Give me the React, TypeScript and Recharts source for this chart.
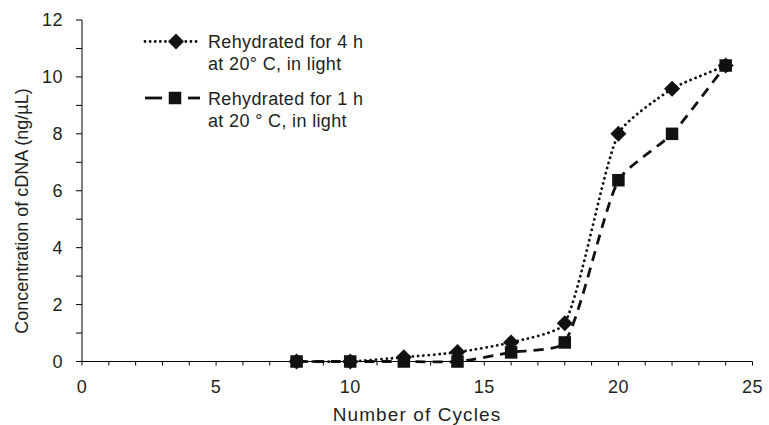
import { LineChart, Line, XAxis, YAxis, Legend } from 'recharts';

// cycles on x, cDNA concentration (ng/µL) on y
const cycles = [8, 10, 12, 14, 16, 18, 20, 22, 24];
const rehydrated4h = [0, 0, 0.15, 0.33, 0.67, 1.34, 8.0, 9.58, 10.4];
const rehydrated1h = [0, 0, 0, 0, 0.32, 0.67, 6.37, 8.0, 10.4];

const xTicks = Array.from({ length: 26 }, (_, i) => i);
const yTicks = Array.from({ length: 13 }, (_, i) => i);

const legendLabels = [
  ['Rehydrated for 4 h', 'at 20° C, in light'],
  ['Rehydrated for 1 h', 'at 20 ° C, in light'],
];

const data = cycles.map((c, i) => ({ cycle: c, h4: rehydrated4h[i], h1: rehydrated1h[i] }));

const INK = '#231f20';
const FONT = 'Liberation Sans, Arial, sans-serif';

// smoothed line: bezier tangents weighted by neighbouring segment lengths
function smoothCurve(context: any) {
  let pts: number[][] = [];
  const dist = (a: number[], b: number[]) => Math.hypot(b[0] - a[0], b[1] - a[1]);
  // control offset from point i towards its neighbour on side s (+1 next, -1 prev)
  const ctrl = (i: number, s: number) => {
    const p = pts[i];
    const prev = pts[i - 1];
    const next = pts[i + 1];
    if (!prev || !next) {
      const q = s > 0 ? next : prev;
      return [p[0] + (q[0] - p[0]) / 3, p[1] + (q[1] - p[1]) / 3];
    }
    const tx = next[0] - prev[0];
    const ty = next[1] - prev[1];
    const dp = dist(prev, p);
    const dn = dist(p, next);
    const w = (s > 0 ? dn : dp) / (dp + dn || 1) / 5;
    return [p[0] + s * tx * w, p[1] + s * ty * w];
  };
  return {
    areaStart() {},
    areaEnd() {},
    lineStart() {
      pts = [];
    },
    point(x: number, y: number) {
      pts.push([+x, +y]);
    },
    lineEnd() {
      if (!pts.length) return;
      context.moveTo(pts[0][0], pts[0][1]);
      for (let i = 0; i < pts.length - 1; i++) {
        const c1 = ctrl(i, 1);
        const c2 = ctrl(i + 1, -1);
        context.bezierCurveTo(c1[0], c1[1], c2[0], c2[1], pts[i + 1][0], pts[i + 1][1]);
      }
    },
  };
}

function Diamond(props: any) {
  const { cx, cy } = props;
  if (cx == null || cy == null) return null;
  const r = 8;
  return (
    <polygon
      points={`${cx},${cy - r} ${cx + r},${cy} ${cx},${cy + r} ${cx - r},${cy}`}
      fill="#111"
    />
  );
}

function Square(props: any) {
  const { cx, cy } = props;
  if (cx == null || cy == null) return null;
  const s = 12.5;
  return <rect x={cx - s / 2} y={cy - s / 2} width={s} height={s} fill="#111" />;
}

function LegendBox() {
  const textStyle = { fontFamily: FONT, fontSize: 18, letterSpacing: 0.35, fill: INK };
  return (
    <svg width={240} height={110} style={{ display: 'block' }}>
      <line x1={5} y1={16.5} x2={60} y2={16.5} stroke="#111" strokeWidth={2.8}
        strokeDasharray="0.1 5" strokeLinecap="round" />
      <Diamond cx={36} cy={16.5} />
      <text x={68} y={23} style={textStyle}>{legendLabels[0][0]}</text>
      <text x={68} y={44.5} style={textStyle}>{legendLabels[0][1]}</text>

      <line x1={5} y1={73} x2={22} y2={73} stroke="#111" strokeWidth={2.8} />
      <line x1={48} y1={73} x2={60} y2={73} stroke="#111" strokeWidth={2.8} />
      <Square cx={35} cy={73} />
      <text x={68} y={79.5} style={textStyle}>{legendLabels[1][0]}</text>
      <text x={68} y={101.5} style={textStyle}>{legendLabels[1][1]}</text>
    </svg>
  );
}

function YTitle() {
  const x = 22;
  const y = 211;
  return (
    <text x={x} y={y} transform={`rotate(-90 ${x} ${y})`} textAnchor="middle"
      dominantBaseline="central" fontFamily={FONT} fontSize={18} fill={INK}>
      Concentration of cDNA (ng/µL)
    </text>
  );
}

function XTitle() {
  return (
    <text x={417} y={421} textAnchor="middle" fontFamily={FONT} fontSize={19}
      letterSpacing={1.1} fill={INK}>
      Number of Cycles
    </text>
  );
}

export default function App() {
  const tick = { fontFamily: FONT, fontSize: 18, letterSpacing: 0.5, fill: INK };
  return (
    <div style={{ position: 'absolute', left: 0, top: 0, width: 769, height: 425, background: '#fff' }}>
      <LineChart width={769} height={425} data={data}
        margin={{ top: 20, right: 16.5, left: 0, bottom: 0 }}>
        <XAxis
          dataKey="cycle"
          type="number"
          domain={[0, 25]}
          ticks={xTicks}
          interval={0}
          tickFormatter={(v: number) => (v % 5 === 0 ? String(v) : '')}
          tick={tick}
          tickSize={4}
          tickMargin={15}
          height={63.5}
          stroke="#000"
          tickLine={{ stroke: '#000' }}
          label={<XTitle />}
        />
        <YAxis
          type="number"
          domain={[0, 12]}
          ticks={yTicks}
          interval={0}
          tickFormatter={(v: number) => (v % 2 === 0 ? String(v) : '')}
          tick={tick}
          tickSize={6}
          tickMargin={13}
          width={82}
          stroke="#000"
          tickLine={{ stroke: '#000' }}
          label={<YTitle />}
        />
        <Legend
          layout="vertical"
          align="center"
          verticalAlign="middle"
          content={() => <LegendBox />}
          wrapperStyle={{ position: 'absolute', left: 140, top: 25, width: 240, height: 110 }}
        />
        <Line
          type={smoothCurve as any}
          dataKey="h1"
          stroke="#111"
          strokeWidth={2.8}
          strokeDasharray="10 7"
          dot={<Square />}
          activeDot={false}
          isAnimationActive={false}
        />
        <Line
          type={smoothCurve as any}
          dataKey="h4"
          stroke="#111"
          strokeWidth={2.8}
          strokeDasharray="0.1 5.2"
          strokeLinecap="round"
          dot={<Diamond />}
          activeDot={false}
          isAnimationActive={false}
        />
      </LineChart>
    </div>
  );
}
